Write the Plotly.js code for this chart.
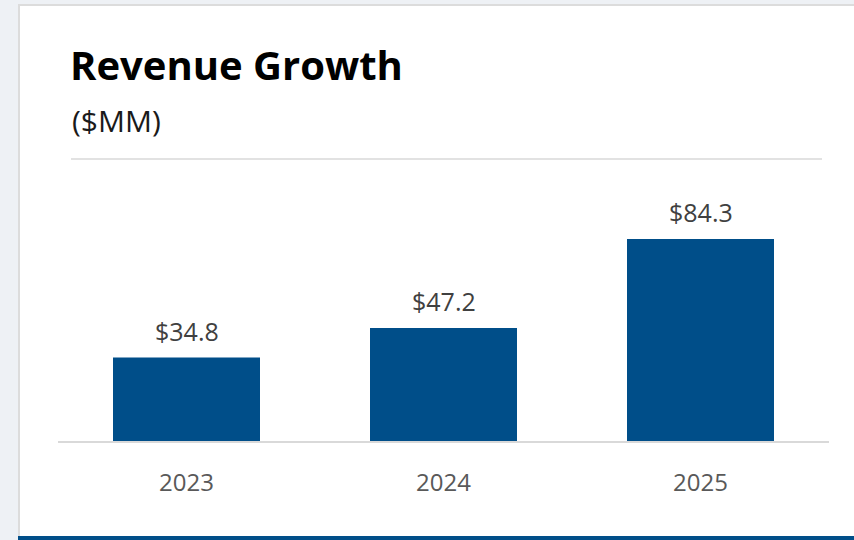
<!DOCTYPE html>
<html>
<head>
<meta charset="utf-8">
<script src="https://cdn.plot.ly/plotly-3.0.1.min.js"></script>
<style>
  html, body { margin: 0; padding: 0; width: 854px; height: 540px; overflow: hidden; background: #eef1f5; }
  #card { position: absolute; left: 18px; top: 4px; width: 860px; height: 532px; background: #ffffff;
          border-left: 2px solid #dcdcdc; border-top: 2px solid #dcdcdc; box-sizing: border-box; }
  #bottombar { position: absolute; left: 18px; top: 536px; width: 836px; height: 4px; background: #004e89; }
  #chart { position: absolute; left: 0; top: 0; width: 854px; height: 540px; }
</style>
</head>
<body>
<div id="card"></div>
<div id="bottombar"></div>
<div id="chart"></div>
<script>
const categories = ["2023", "2024", "2025"];
const revenue = [34.8, 47.2, 84.3];
const valueLabels = ["$34.8", "$47.2", "$84.3"];
const chartTitle = "Revenue Growth";
const chartSubtitle = "($MM)";

const FONT = "Open Sans, sans-serif";

const trace = {
  type: "bar",
  x: categories,
  y: revenue,
  marker: { color: "#004e89" },
  hoverinfo: "skip"
};

// category axes place annotations by category serial number
const labelAnnotations = categories.map((c, i) => ({
  x: i, y: revenue[i], xref: "x", yref: "y",
  text: valueLabels[i],
  showarrow: false,
  xanchor: "center", yanchor: "bottom",
  yshift: 8,
  font: { family: FONT, size: 25, color: "#404040" }
}));

const layout = {
  width: 854, height: 540,
  margin: { l: 58, r: 25, t: 159, b: 99 },
  paper_bgcolor: "rgba(0,0,0,0)",
  plot_bgcolor: "rgba(0,0,0,0)",
  bargap: 0.428,
  showlegend: false,
  font: { family: FONT, color: "#404040" },
  title: {
    text: "<b>" + chartTitle + "</b>",
    font: { family: FONT, size: 40, color: "#000000" },
    xref: "container", yref: "container",
    x: 70 / 854, xanchor: "left",
    y: 1 - 66 / 540, yanchor: "middle"
  },
  annotations: [{
    text: chartSubtitle,
    xref: "paper", yref: "paper",
    x: (70 - 58) / 771, xanchor: "left",
    y: 1 + (159 - 121) / 282, yanchor: "middle",
    showarrow: false,
    font: { family: FONT, size: 30, color: "#1a1a1a" }
  }].concat(labelAnnotations),
  shapes: [{
    type: "line", xref: "paper", yref: "paper",
    x0: (71 - 58) / 771, x1: (822 - 58) / 771, y0: 1, y1: 1,
    line: { color: "#d9d9d9", width: 1.5 }
  }],
  xaxis: {
    type: "category",
    range: [-0.5, 2.5],
    showline: true, linecolor: "#d9d9d9", linewidth: 2,
    showgrid: false, zeroline: false,
    ticks: "", ticklabelstandoff: 19,
    tickfont: { family: FONT, size: 24, color: "#595959" },
    fixedrange: true
  },
  yaxis: {
    range: [0, 117.7],
    visible: false,
    showgrid: false, zeroline: false,
    fixedrange: true
  }
};

Plotly.newPlot("chart", [trace], layout, { displayModeBar: false, staticPlot: true });
</script>
</body>
</html>
